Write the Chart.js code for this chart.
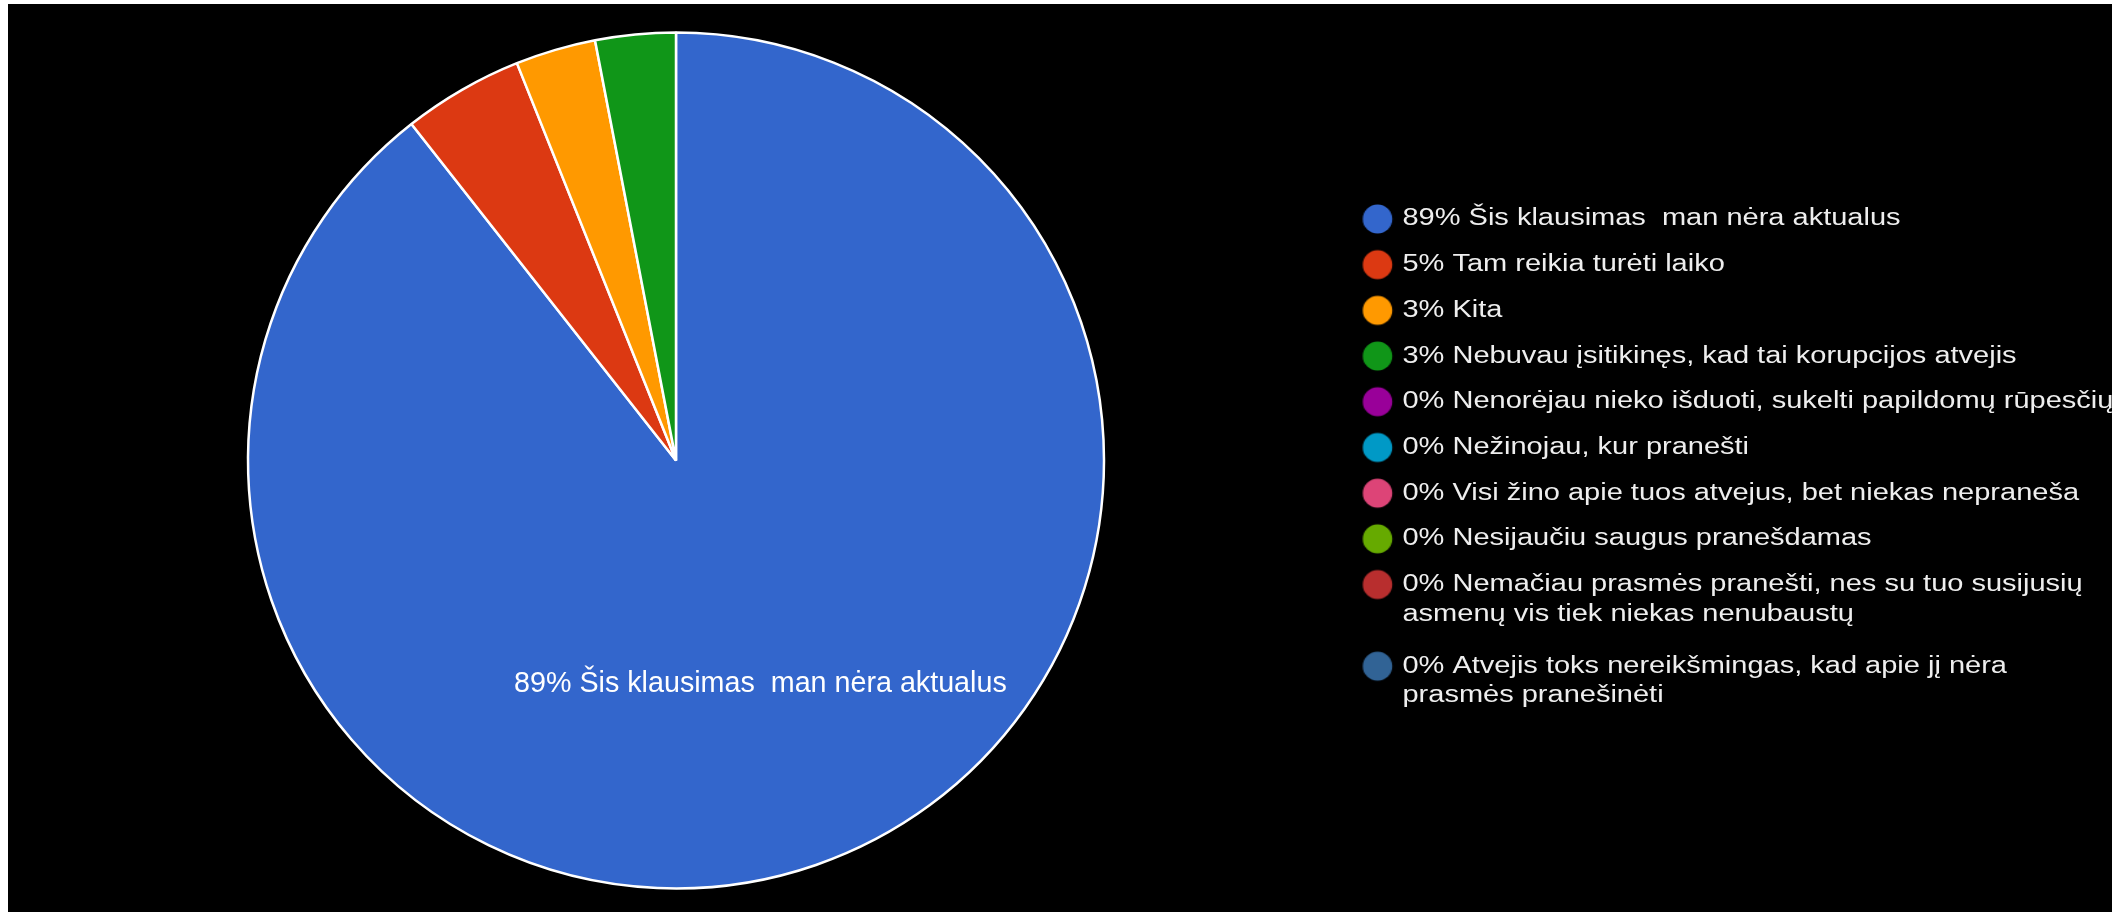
<!DOCTYPE html>
<html>
<head>
<meta charset="utf-8">
<script src="https://cdn.jsdelivr.net/npm/chart.js@4.4.0/dist/chart.umd.min.js"></script>
<style>
  html, body { margin: 0; padding: 0; background: #fff; overflow: hidden; }
  #wrap { position: absolute; left: 8px; top: 4px; width: 2104px; height: 908px; background: #000; }
</style>
</head>
<body>
<div id="wrap"><canvas id="chart"></canvas></div>
<script>
// answers (\n = where the legend wraps the line)
const categories = [
  'Šis klausimas  man nėra aktualus',
  'Tam reikia turėti laiko',
  'Kita',
  'Nebuvau įsitikinęs, kad tai korupcijos atvejis',
  'Nenorėjau nieko išduoti, sukelti papildomų rūpesčių',
  'Nežinojau, kur pranešti',
  'Visi žino apie tuos atvejus, bet niekas nepraneša',
  'Nesijaučiu saugus pranešdamas',
  'Nemačiau prasmės pranešti, nes su tuo susijusių\nasmenų vis tiek niekas nenubaustų',
  'Atvejis toks nereikšmingas, kad apie jį nėra\nprasmės pranešinėti'
];
const responses = [59, 3, 2, 2, 0, 0, 0, 0, 0, 0];
const colors = ['#3366cc', '#dc3912', '#ff9900', '#109618', '#990099',
                '#0099c6', '#dd4477', '#66aa00', '#b82e2e', '#316395'];

const total = responses.reduce((a, b) => a + b, 0);
const pct = i => Math.round(responses[i] / total * 100);

// the legend in the screenshot is stretched sideways
const legendStretch = 1.234;

function marker(color) {
  const c = document.createElement('canvas');
  c.width = 36;
  c.height = 32;
  const g = c.getContext('2d');
  g.fillStyle = color;
  g.beginPath();
  g.ellipse(18 - 1.75, 16, 14.75 / legendStretch, 14.5, 0, 0, Math.PI * 2);
  g.fill();
  return c;
}
const markers = colors.map(marker);

const stretchLegend = {
  id: 'stretchLegend',
  beforeDraw(chart) {
    const ctx = chart.ctx;
    const left = chart.legend.left;
    ctx.save();
    ctx.translate(left, 0);
    ctx.scale(legendStretch, 1);
    ctx.translate(-left, 0);
  },
  beforeDatasetsDraw(chart) {
    chart.ctx.restore();
  }
};

// text inside big slices
const sliceLabels = {
  id: 'sliceLabels',
  afterDatasetsDraw(chart) {
    const ctx = chart.ctx;
    chart.getDatasetMeta(0).data.forEach((arc, i) => {
      if (responses[i] / total < 0.1) return;
      const mid = (arc.startAngle + arc.endAngle) / 2 - 0.028;
      const r = arc.outerRadius * 0.558;
      ctx.save();
      ctx.font = '28.7px "Liberation Sans", Arial, sans-serif';
      ctx.fillStyle = '#ffffff';
      ctx.textAlign = 'center';
      ctx.textBaseline = 'middle';
      ctx.fillText(pct(i) + '% ' + categories[i].replace('\n', ' '),
        arc.x + Math.cos(mid) * r, arc.y + Math.sin(mid) * r);
      ctx.restore();
    });
  }
};

const chart = new Chart(document.getElementById('chart'), {
  type: 'pie',
  data: {
    labels: categories,
    datasets: [{
      data: responses,
      backgroundColor: colors,
      borderColor: '#ffffff',
      borderWidth: c => (c.raw > 0 ? 2.5 : 0),
      hoverOffset: 0
    }]
  },
  options: {
    responsive: true,
    maintainAspectRatio: false,
    animation: false,
    radius: 428,
    layout: { padding: { top: 5, right: 0 } },
    plugins: {
      tooltip: { enabled: false },
      legend: {
        position: 'right',
        align: 'center',
        labels: {
          usePointStyle: true,
          boxWidth: 13.45,
          padding: 22.2,
          color: '#eeeeee',
          font: {
            family: '"Liberation Sans", Arial, sans-serif',
            size: 23.5,
            lineHeight: 1.264
          },
          generateLabels() {
            return categories.map((c, i) => {
              const lines = (pct(i) + '% ' + c).split('\n');
              return {
                text: lines.length > 1 ? lines : lines[0],
                fillStyle: colors[i],
                strokeStyle: colors[i],
                fontColor: '#eeeeee',
                lineWidth: 0,
                pointStyle: markers[i],
                hidden: false,
                index: i
              };
            });
          }
        }
      }
    }
  },
  plugins: [stretchLegend, sliceLabels]
});

// keep the pie centred at x=668 in the canvas
chart.options.layout.padding.right = Math.max(0, 2104 - 1336 - chart.legend.width);
chart.update();
</script>
</body>
</html>
